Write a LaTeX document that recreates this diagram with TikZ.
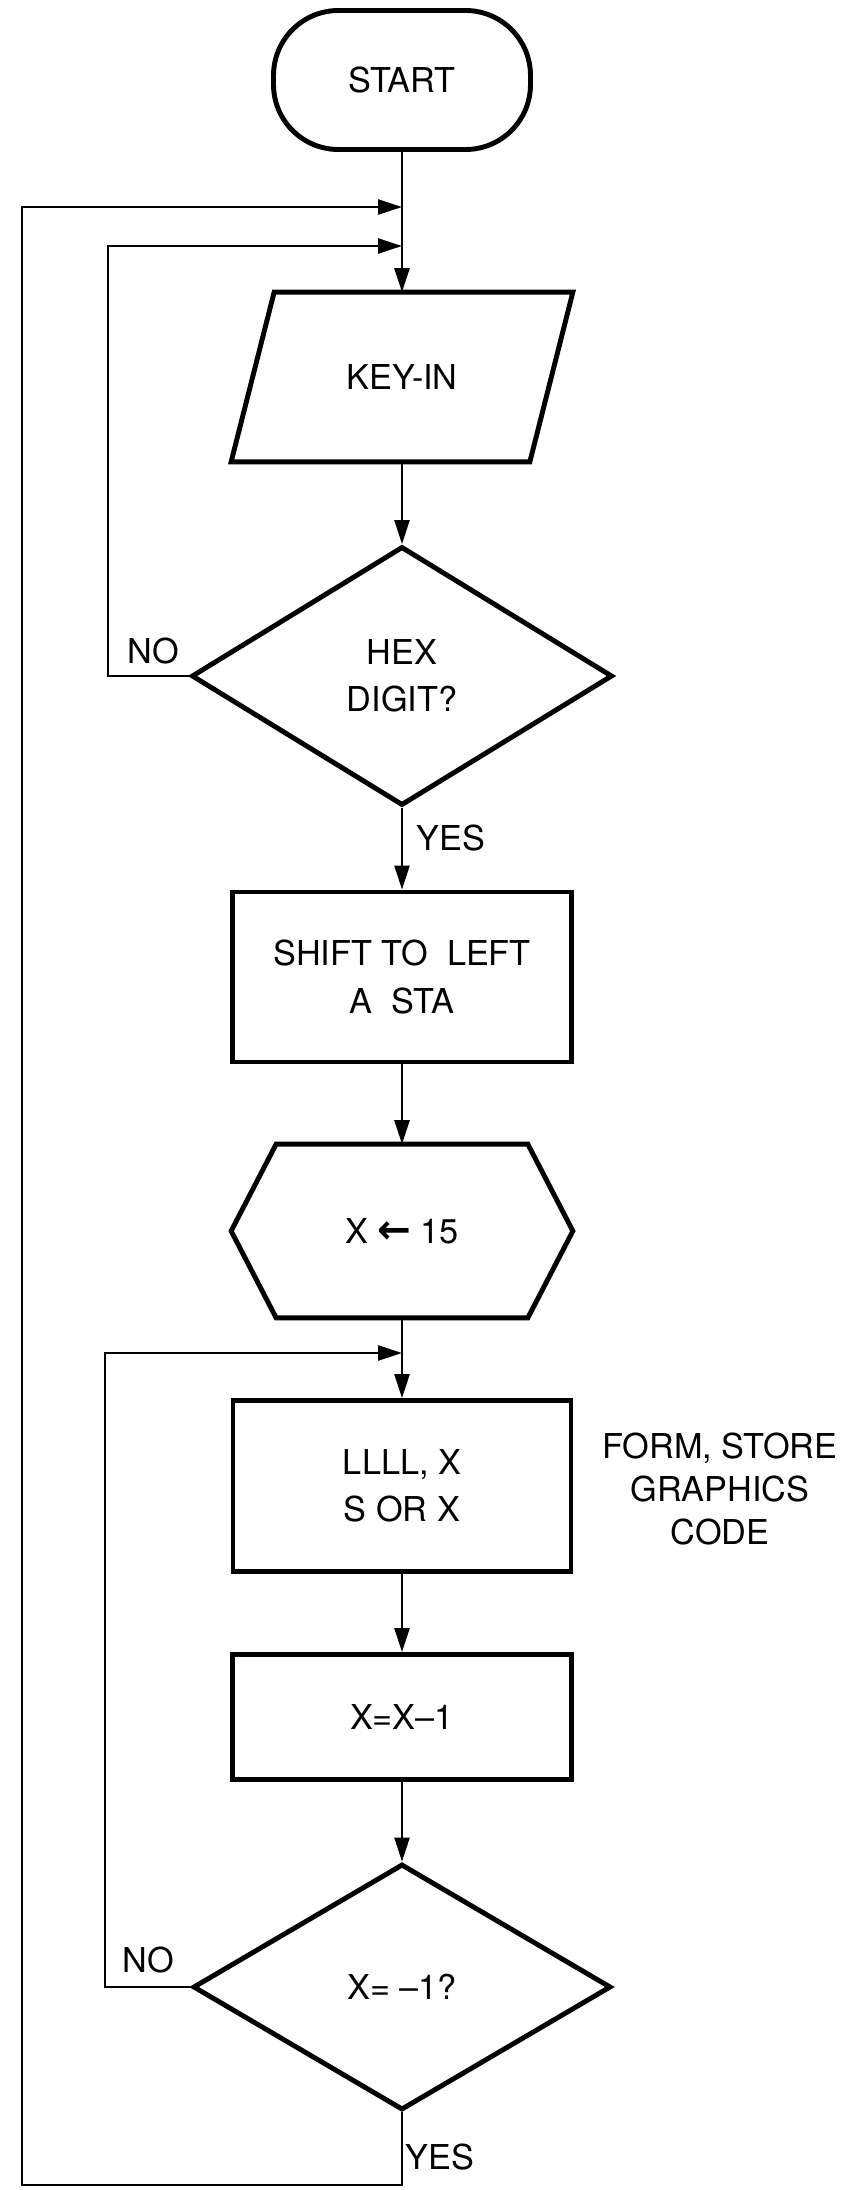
\documentclass[tikz,border=0pt]{standalone}
\usepackage{fontspec}
\setmainfont{TeX Gyre Heros}
\newfontfamily\arrowfont{DejaVu Sans}
\usetikzlibrary{calc,arrows.meta,shapes.geometric}

\begin{document}
\begin{tikzpicture}[x=0.02cm, y=-0.02cm,
    font=\fontsize{19.5pt}{27pt}\selectfont,
    boxline/.style={draw, line width=2.8pt},
    flowline/.style={line width=1.5pt, -{Triangle[length=0.48cm, width=0.3cm]}},
    answer/.style={inner sep=1pt}]

    % パラメータの定義
    \pgfmathsetmacro{\pxu}{0.02}
    \pgfmathsetmacro{\xc}{402}

    % 図の範囲
    \useasboundingbox (0,0) rectangle (841,2190);

    % 点の定義
    \coordinate (j1) at (\xc,207);
    \coordinate (j2) at (\xc,246);
    \coordinate (j3) at (\xc,1353);
    \coordinate (n1) at (108,246);
    \coordinate (n2) at (105,1353);
    \coordinate (c1) at (22,2185);

    % 枠の描画
    \node [boxline, rounded corners=1.3cm, minimum width=257*\pxu*1cm, minimum height=139*\pxu*1cm] (start) at (\xc,80) {START};

    \node [minimum width=341*\pxu*1cm, minimum height=169*\pxu*1cm] (keyin) at (\xc,377) {KEY-IN};
    \draw [boxline] ($(keyin.north west)+(43,0)$) -- (keyin.north east) -- ($(keyin.south east)+(-43,0)$) -- (keyin.south west) -- cycle;

    \node [boxline, diamond, align=center, minimum width=421*\pxu*1cm, minimum height=259*\pxu*1cm] (hexdig) at (\xc,676) {HEX\\DIGIT?};

    \node [boxline, align=center, minimum width=339*\pxu*1cm, minimum height=170*\pxu*1cm] (shift) at (\xc,977) {SHIFT TO\ \ LEFT\\A\ \ STA};

    \node [minimum width=341*\pxu*1cm, minimum height=173*\pxu*1cm] (init) at (\xc,1231) {X {\arrowfont\bfseries\fontsize{23pt}{27pt}\selectfont ←} 15};
    \draw [boxline] ($(init.north west)+(45,0)$) -- ($(init.north east)+(-45,0)$) -- (init.east) -- ($(init.south east)+(-45,0)$) -- ($(init.south west)+(45,0)$) -- (init.west) -- cycle;

    \node [boxline, align=center, minimum width=338*\pxu*1cm, minimum height=171*\pxu*1cm] (lcode) at (\xc,1486) {LLLL, X\\S OR X};

    \node [boxline, minimum width=339*\pxu*1cm, minimum height=125*\pxu*1cm] (dec) at (\xc,1717) {X=X--1};

    \node [boxline, diamond, minimum width=418*\pxu*1cm, minimum height=246*\pxu*1cm] (xdone) at (\xc,1987) {X= --1?};

    % ラベルの描画
    \node [align=center, font=\fontsize{19.5pt}{24.5pt}\selectfont] (note) at (720,1489) {FORM, STORE\\GRAPHICS\\CODE};
    \node [answer] (no1) at (153,651) {NO};
    \node [answer] (yes1) at (451,838) {YES};
    \node [answer] (no2) at (148,1960) {NO};
    \node [answer] (yes2) at (440,2157) {YES};

    % 線分の描画
    \draw [flowline] (start.south) -- (keyin.north);
    \draw [flowline] (keyin.south) -- (hexdig.north);
    \draw [flowline] (hexdig.south) -- (shift.north);
    \draw [flowline] (shift.south) -- (init.north);
    \draw [flowline] (init.south) -- (lcode.north);
    \draw [flowline] (lcode.south) -- (dec.north);
    \draw [flowline] (dec.south) -- (xdone.north);

    % ループの描画
    \draw [flowline] (hexdig.west) -| (n1) -- (j2);
    \draw [flowline] (xdone.west) -| (n2) -- (j3);
    \draw [flowline] (xdone.south) |- (c1) |- (j1);

\end{tikzpicture}
\end{document}
